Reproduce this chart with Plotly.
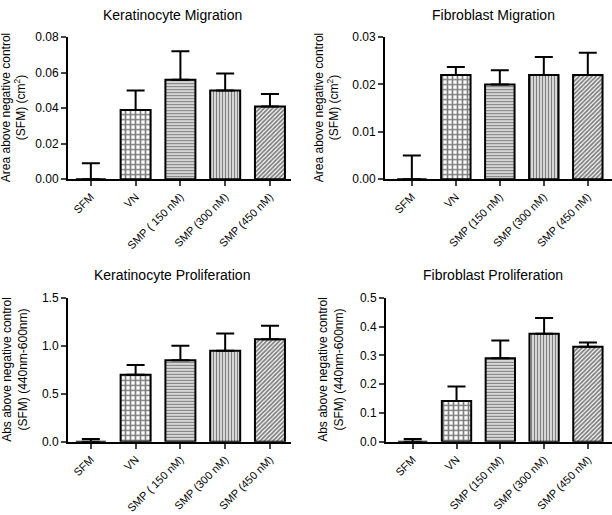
import plotly.graph_objects as go

categories = ["SFM", "VN", "SMP ( 150 nM)", "SMP (300 nM)", "SMP (450 nM)"]
categories_fib = ["SFM", "VN", "SMP (150 nM)", "SMP (300 nM)", "SMP (450 nM)"]

km_values = [0.0, 0.039, 0.056, 0.050, 0.041]
km_errors = [0.009, 0.011, 0.016, 0.0095, 0.007]

fm_values = [0.0, 0.022, 0.020, 0.022, 0.022]
fm_errors = [0.005, 0.0017, 0.003, 0.0038, 0.0047]

kp_values = [0.0, 0.70, 0.85, 0.95, 1.07]
kp_errors = [0.03, 0.10, 0.15, 0.18, 0.14]

fp_values = [0.0, 0.142, 0.29, 0.375, 0.33]
fp_errors = [0.01, 0.05, 0.062, 0.055, 0.015]

patterns = ["", "+", "-", "|", "/"]
pat_sizes = [4, 5, 3, 3, 3]
pat_solid = [0.3, 0.55, 0.55, 0.55, 0.6]

titles = ["Keratinocyte Migration", "Fibroblast Migration",
          "Keratinocyte Proliferation", "Fibroblast Proliferation"]
ytitles = ["Area above negative control<br>(SFM) (cm<sup>2</sup>)",
           "Area above negative control<br>(SFM) (cm<sup>2</sup>)",
           "Abs above negative control<br>(SFM) (440nm-600nm)",
           "Abs above negative control<br>(SFM) (440nm-600nm)"]

W, H = 612, 515
FONT = "Liberation Sans, Arial, sans-serif"

fig = go.Figure()

panels = [
    dict(vals=km_values, errs=km_errors, cats=categories, yr=[0, 0.08], dt=0.02, fmt=".2f",
         xpx=(68, 291), ypx=(31, 177), xr=[-0.51, 4.47], yt=(14, 104)),
    dict(vals=fm_values, errs=fm_errors, cats=categories_fib, yr=[0, 0.03], dt=0.01, fmt=".2f",
         xpx=(385, 612), ypx=(31, 177), xr=[-0.61, 4.55], yt=(327, 104)),
    dict(vals=kp_values, errs=kp_errors, cats=categories, yr=[0, 1.5], dt=0.5, fmt=".1f",
         xpx=(68, 291), ypx=(299, 447), xr=[-0.51, 4.47], yt=(15, 373)),
    dict(vals=fp_values, errs=fp_errors, cats=categories_fib, yr=[0, 0.5], dt=0.1, fmt=".1f",
         xpx=(386, 612), ypx=(299, 447), xr=[-0.61, 4.55], yt=(331, 373)),
]

layout = {}
for i, p in enumerate(panels):
    n = "" if i == 0 else str(i + 1)
    xa, ya = "x" + n, "y" + n
    fig.add_trace(go.Bar(
        x=list(range(5)), y=p["vals"], xaxis=xa, yaxis=ya, width=0.67,
        marker=dict(color="white", line=dict(color="black", width=2),
                    pattern=dict(shape=patterns, fgcolor="black", bgcolor="white",
                                 size=pat_sizes, solidity=pat_solid)),
        error_y=dict(type="data", array=p["errs"], arrayminus=[0] * 5, symmetric=False,
                     color="black", thickness=2, width=9),
        showlegend=False, hoverinfo="skip"))
    x0, x1 = p["xpx"]
    y0, y1 = p["ypx"]
    layout["xaxis" + n] = dict(
        domain=[x0 / W, x1 / W], anchor=ya, range=p["xr"], tickmode="array",
        tickvals=list(range(5)), ticktext=p["cats"], tickangle=-45, ticks="outside",
        ticklen=5, tickwidth=2, showline=True, linecolor="black", linewidth=2,
        showgrid=False, zeroline=False, tickfont=dict(size=11, family=FONT, color="black"))
    layout["yaxis" + n] = dict(
        domain=[1 - y1 / H, 1 - y0 / H], anchor=xa, range=p["yr"], dtick=p["dt"],
        tickformat=p["fmt"], ticks="outside", ticklen=5, tickwidth=2, showline=True,
        linecolor="black", linewidth=2, showgrid=False, zeroline=False,
        tickfont=dict(size=12, family=FONT, color="black"))
    tx, ty = p["yt"]
    fig.add_annotation(text=ytitles[i], x=tx / W, y=1 - ty / H, xref="paper", yref="paper",
                       showarrow=False, xanchor="center", yanchor="middle", textangle=-90,
                       font=dict(size=12, family=FONT, color="black"))

fig.update_layout(**layout)

title_pos = [(172, 8), (493, 8), (172, 275), (493, 275)]
for (tx, ty), t in zip(title_pos, titles):
    fig.add_annotation(text=t, x=tx / W, y=1 - ty / H, xref="paper", yref="paper",
                       showarrow=False, xanchor="center", yanchor="middle",
                       font=dict(size=14, family=FONT, color="black"))

fig.update_layout(width=W, height=H, margin=dict(l=0, r=0, t=0, b=0),
                  plot_bgcolor="white", paper_bgcolor="white", bargap=0.33,
                  font=dict(family=FONT, color="black"))

fig.write_html("out.html", config={"displayModeBar": False},
               post_script="document.body.style.margin='0';document.body.style.overflow='hidden';")
